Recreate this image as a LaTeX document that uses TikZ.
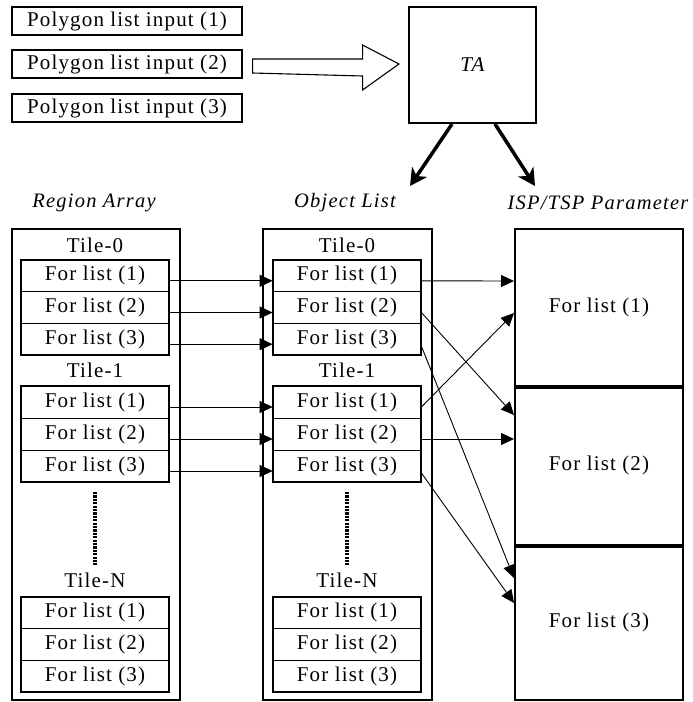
\documentclass[tikz,border=0pt]{standalone}
\usepackage{fontspec}
\setmainfont{Liberation Serif}[LetterSpace=5.5]
\usetikzlibrary{arrows.meta,calc}
\begin{document}
\begin{tikzpicture}[x=1pt,y=-1pt,
  font=\fontsize{21}{23}\selectfont,
  rowbox/.style={draw, line width=0.8pt, minimum width=148pt, inner sep=0pt},
  grp/.style={draw, line width=2pt},
  outerbox/.style={draw, line width=2pt, inner sep=0pt},
  pbox/.style={draw, line width=1.1pt, minimum width=230pt, minimum height=28pt, inner sep=0pt},
  heading/.style={font=\fontsize{20.5}{22}\selectfont\itshape\addfontfeature{LetterSpace=6}},
  thinarrow/.style={line width=0.9pt, -{Triangle[length=13pt,width=12pt]}},
  fatarrow/.style={line width=3.5pt, -{Stealth[length=17pt,width=18pt,inset=5pt]}},
  dotline/.style={line width=3.2pt, dash pattern=on 2.2pt off 1.2pt}
]
\useasboundingbox (0,0) rectangle (693,702);

% polygon inputs
\node[pbox] (p1) at (127,21) {Polygon list input (1)};
\node[pbox] (p2) at (127,64) {Polygon list input (2)};
\node[pbox] (p3) at (127,108) {Polygon list input (3)};

% TA
\node[outerbox, minimum width=127pt, minimum height=116pt] (ta) at (472.5,65) {\itshape TA};

% hollow arrow
\draw[line width=1.1pt] ($(p2.east)+(10,-5)$) -- ++(110,0) -- ++(0,-14) -- ($(ta.west)+(-9,-1)$)
  -- ($(p2.east)+(120,26)$) -- ++(0,-14) -- ($(p2.east)+(10,9)$) -- cycle;

% headings
\node[heading] (hra) at (94,203) {Region Array};
\node[heading] (hol) at (345,203) {Object List};
\node[heading] (hisp) at (598,203) {ISP/TSP Parameter};

% TA arrows
\coordinate (taL) at (410,186);
\coordinate (taR) at (535,186);
\draw[fatarrow] ([xshift=-20.5pt]ta.south) -- (taL);
\draw[fatarrow] ([xshift=22.5pt]ta.south) -- (taR);

% outer boxes
\node[outerbox, minimum width=168pt, minimum height=471pt] (ra) at (96,464.5) {};
\node[outerbox, minimum width=169pt, minimum height=471pt] (ol) at (347.5,464.5) {};

% ISP
\node[outerbox, minimum width=168pt, minimum height=157pt] (isp1) at (599,307.5) {For list (1)};
\node[outerbox, minimum width=168pt, minimum height=159pt] (isp2) at (599,465.5) {For list (2)};
\node[outerbox, minimum width=168pt, minimum height=155pt] (isp3) at (599,622.5) {For list (3)};
\draw[line width=4pt] (isp1.south west) -- (isp1.south east);
\draw[line width=4pt] (isp2.south west) -- (isp2.south east);

% tiles
\foreach \c/\cx in {r/95,o/347} {
  \node (\c t0) at (\cx,245) {Tile-0};
  \node (\c t1) at (\cx,370) {Tile-1};
  \node (\c tN) at (\cx,580) {Tile-N};
  \foreach \g/\gy/\h in {0/260/31.67,1/386/32,N/597/31.67} {
    \foreach \i in {1,2,3}
      \node[rowbox, minimum height=\h pt] (\c\g\i) at (\cx,{\gy+\h*\i-\h/2}) {For list (\i)};
    \draw[grp] (\c\g1.north west) rectangle (\c\g3.south east);
  }
  \coordinate (\c d1) at (\cx,492);
  \coordinate (\c d2) at (\cx,565);
  \draw[dotline] (\c d1) -- (\c d2);
}

% region -> object
\foreach \g in {0,1}
  \foreach \i in {1,2,3}
    \draw[thinarrow] ([yshift=-5pt]r\g\i.east) -- ([yshift=-5pt]o\g\i.west);

% object -> ISP
\draw[thinarrow] ([yshift=-5pt]o01.east) -- ([yshift=26.5pt]isp1.west);
\draw[thinarrow] ([yshift=-5pt]o02.east) -- ([yshift=50.5pt]isp2.west);
\draw[thinarrow] ([yshift=-7pt]o03.east) -- ([yshift=44.5pt]isp3.west);
\draw[thinarrow] ([yshift=-5pt]o11.east) -- ([yshift=-5.5pt]isp1.west);
\draw[thinarrow] ([yshift=-5pt]o12.east) -- ([yshift=26.5pt]isp2.west);
\draw[thinarrow] ([yshift=-7pt]o13.east) -- ([yshift=19.5pt]isp3.west);
\end{tikzpicture}
\end{document}
